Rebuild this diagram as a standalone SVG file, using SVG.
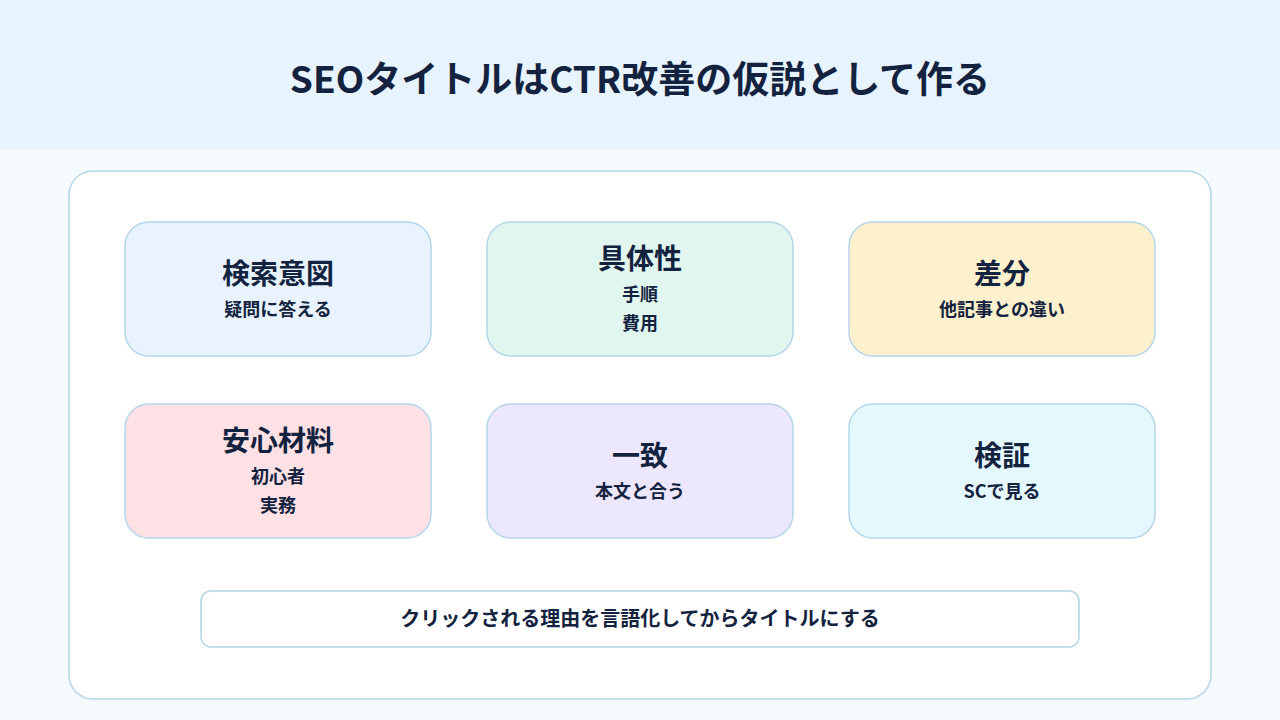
<svg xmlns="http://www.w3.org/2000/svg" width="1280" height="720" viewBox="0 0 1280 720">
<style>
text{font-family:"Noto Sans CJK JP","Noto Sans",sans-serif;fill:#13233f;font-weight:700;text-anchor:middle}
.t{font-size:28px}.s{font-size:18px}
.c{stroke:#b5d6ea;stroke-width:1.5}
</style>
<rect width="1280" height="720" fill="#f5fafe"/>
<rect width="1280" height="150" fill="#e8f4fd"/>
<text x="640" y="93" style="font-size:37px">SEOタイトルはCTR改善の仮説として作る</text>
<rect x="69" y="171" width="1142" height="528" rx="24" fill="#fff" class="c"/>
<g id="n1"><rect x="125" y="222" width="306" height="134" rx="24" fill="#e8f3fd" class="c"/><text class="t" x="278" y="284">検索意図</text><text class="s" x="278" y="316">疑問に答える</text></g>
<g id="n2"><rect x="487" y="222" width="306" height="134" rx="24" fill="#e0f6ef" class="c"/><text class="t" x="640" y="269">具体性</text><text class="s" x="640" y="301">手順</text><text class="s" x="640" y="330">費用</text></g>
<g id="n3"><rect x="849" y="222" width="306" height="134" rx="24" fill="#fdf1cd" class="c"/><text class="t" x="1002" y="284">差分</text><text class="s" x="1002" y="316">他記事との違い</text></g>
<g id="n4"><rect x="125" y="404" width="306" height="134" rx="24" fill="#fde1e5" class="c"/><text class="t" x="278" y="451">安心材料</text><text class="s" x="278" y="483">初心者</text><text class="s" x="278" y="512">実務</text></g>
<g id="n5"><rect x="487" y="404" width="306" height="134" rx="24" fill="#ede7fd" class="c"/><text class="t" x="640" y="466">一致</text><text class="s" x="640" y="498">本文と合う</text></g>
<g id="n6"><rect x="849" y="404" width="306" height="134" rx="24" fill="#e5f8fd" class="c"/><text class="t" x="1002" y="466">検証</text><text class="s" x="1002" y="498">SCで見る</text></g>
<g id="n7"><rect x="201" y="591" width="878" height="56" rx="10" fill="#fff" class="c"/><text x="640" y="626" style="font-size:20px">クリックされる理由を言語化してからタイトルにする</text></g>
<g id="connectors"/>
</svg>
